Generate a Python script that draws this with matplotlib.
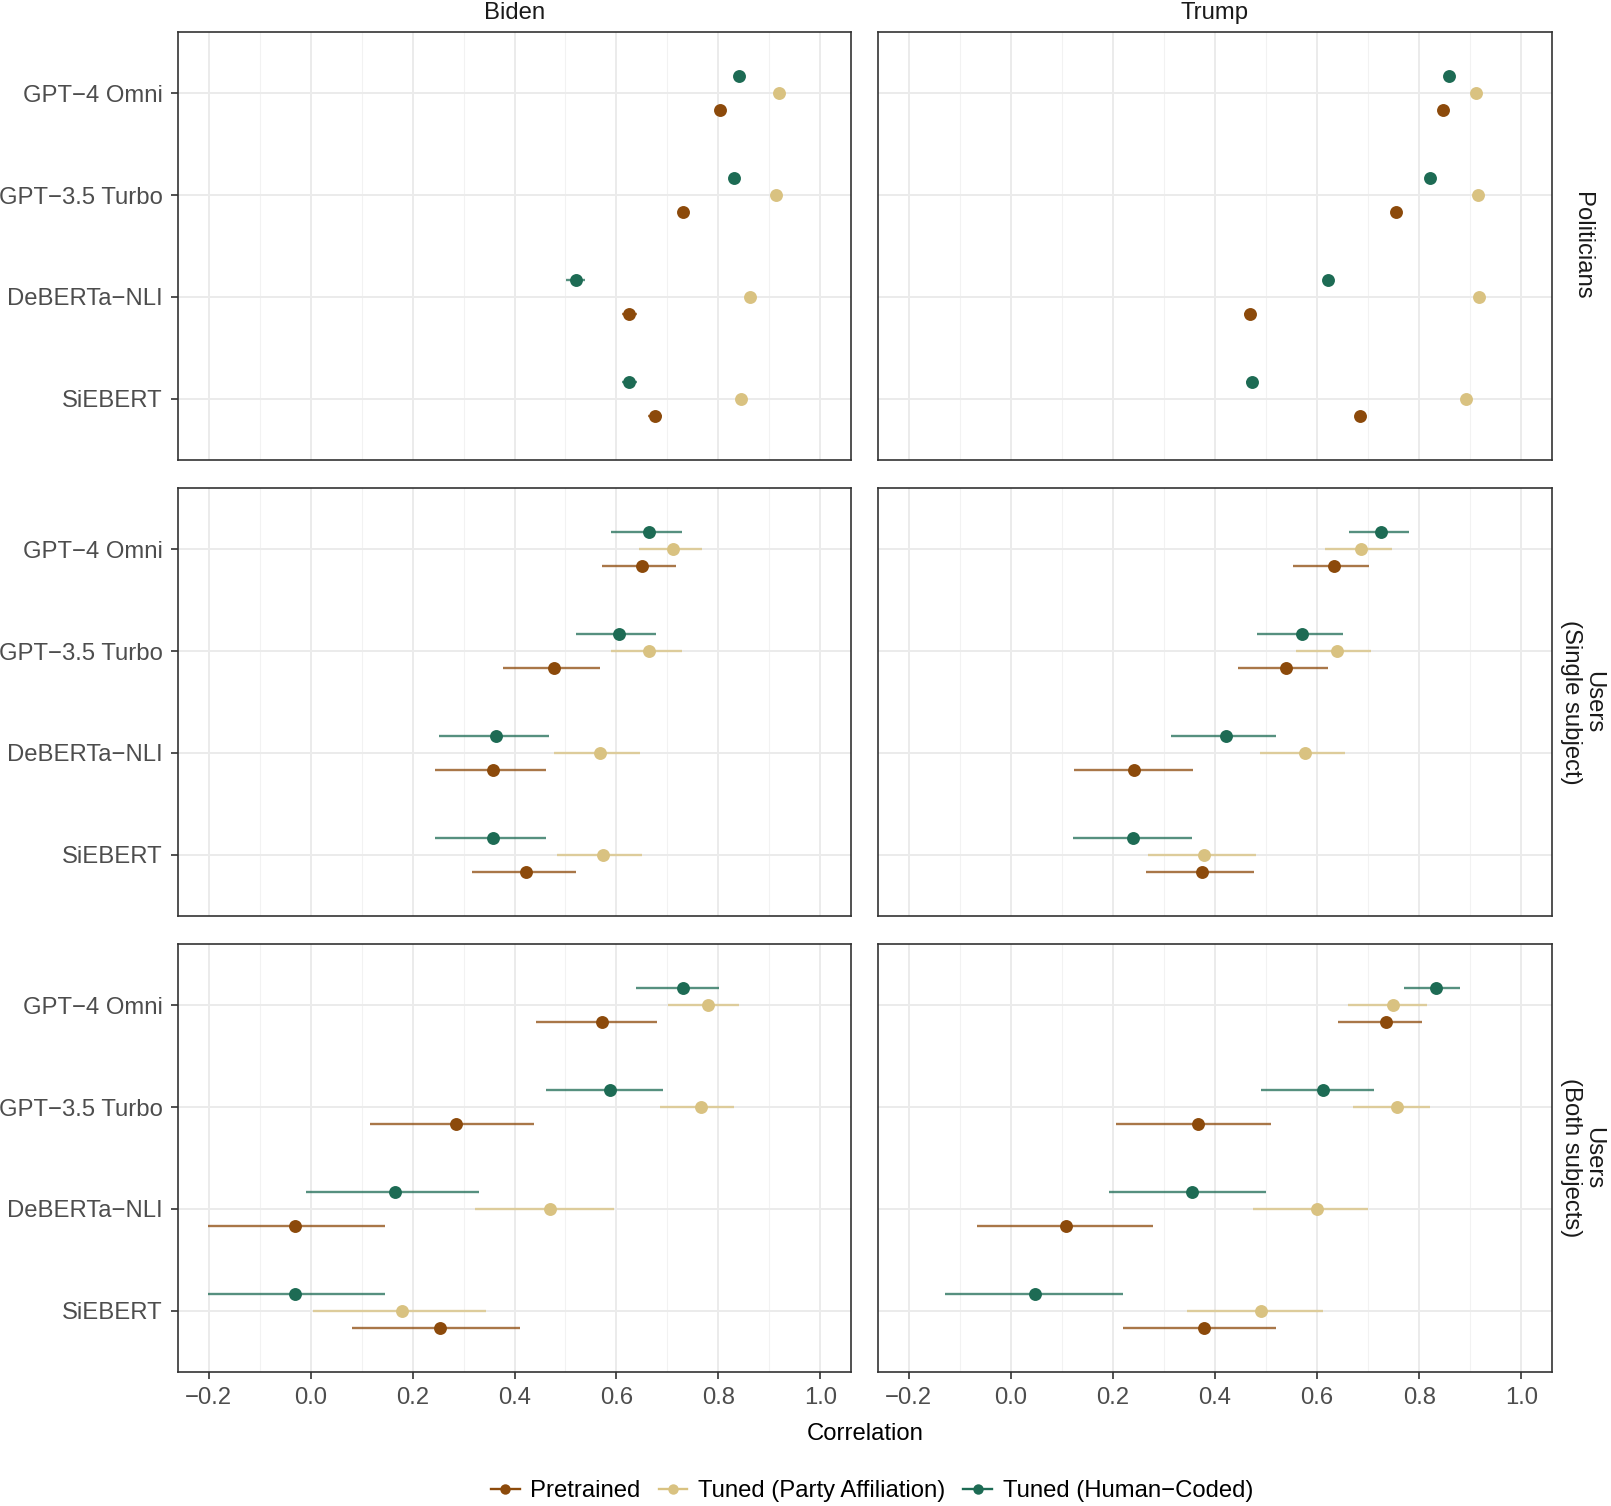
import matplotlib
matplotlib.use("Agg")
import matplotlib.pyplot as plt
from matplotlib.lines import Line2D
import numpy as np

plt.rcParams['font.family'] = ['Liberation Sans', 'DejaVu Sans']

models = ['GPT\u22124 Omni', 'GPT\u22123.5 Turbo', 'DeBERTa\u2212NLI', 'SiEBERT']
series = ['Pretrained', 'Tuned (Party Affiliation)', 'Tuned (Human\u2212Coded)']
colors = ['#8C4A0B', '#D9C281', '#1D6B54']
subjects = ['Biden', 'Trump']
samples = ['Politicians', 'Users\n(Single subject)', 'Users\n(Both subjects)']

# (estimate, lower, upper) per model, in the order of `models`
biden_politicians = {
    'Pretrained': [(0.804, 0.796, 0.812), (0.730, 0.722, 0.738), (0.625, 0.611, 0.641), (0.675, 0.662, 0.689)],
    'Tuned (Party Affiliation)': [(0.918, 0.912, 0.924), (0.912, 0.906, 0.918), (0.862, 0.855, 0.869), (0.844, 0.837, 0.851)],
    'Tuned (Human\u2212Coded)': [(0.841, 0.834, 0.848), (0.831, 0.824, 0.838), (0.520, 0.501, 0.539), (0.625, 0.611, 0.640)],
}
trump_politicians = {
    'Pretrained': [(0.847, 0.840, 0.854), (0.754, 0.746, 0.762), (0.468, 0.456, 0.480), (0.683, 0.675, 0.691)],
    'Tuned (Party Affiliation)': [(0.912, 0.906, 0.918), (0.916, 0.910, 0.922), (0.918, 0.912, 0.924), (0.891, 0.885, 0.897)],
    'Tuned (Human\u2212Coded)': [(0.858, 0.851, 0.865), (0.821, 0.814, 0.828), (0.621, 0.613, 0.629), (0.472, 0.461, 0.484)],
}
biden_single = {
    'Pretrained': [(0.650, 0.572, 0.716), (0.477, 0.377, 0.567), (0.358, 0.245, 0.461), (0.423, 0.316, 0.520)],
    'Tuned (Party Affiliation)': [(0.710, 0.644, 0.767), (0.663, 0.589, 0.729), (0.568, 0.477, 0.646), (0.573, 0.484, 0.651)],
    'Tuned (Human\u2212Coded)': [(0.663, 0.589, 0.729), (0.605, 0.520, 0.678), (0.364, 0.252, 0.467), (0.358, 0.245, 0.461)],
}
trump_single = {
    'Pretrained': [(0.633, 0.552, 0.701), (0.539, 0.445, 0.622), (0.242, 0.123, 0.356), (0.374, 0.264, 0.476)],
    'Tuned (Party Affiliation)': [(0.686, 0.615, 0.746), (0.638, 0.558, 0.705), (0.577, 0.488, 0.654), (0.378, 0.268, 0.480)],
    'Tuned (Human\u2212Coded)': [(0.725, 0.662, 0.780), (0.571, 0.482, 0.650), (0.421, 0.314, 0.519), (0.240, 0.121, 0.354)],
}
biden_both = {
    'Pretrained': [(0.572, 0.443, 0.679), (0.285, 0.116, 0.439), (-0.030, -0.202, 0.146), (0.253, 0.082, 0.410)],
    'Tuned (Party Affiliation)': [(0.780, 0.702, 0.840), (0.766, 0.685, 0.830), (0.470, 0.322, 0.596), (0.179, 0.005, 0.344)],
    'Tuned (Human\u2212Coded)': [(0.730, 0.638, 0.802), (0.588, 0.462, 0.692), (0.165, -0.009, 0.331), (-0.030, -0.202, 0.146)],
}
trump_both = {
    'Pretrained': [(0.734, 0.641, 0.805), (0.367, 0.206, 0.510), (0.109, -0.066, 0.279), (0.379, 0.219, 0.520)],
    'Tuned (Party Affiliation)': [(0.748, 0.661, 0.816), (0.757, 0.671, 0.822), (0.599, 0.474, 0.700), (0.490, 0.345, 0.612)],
    'Tuned (Human\u2212Coded)': [(0.832, 0.770, 0.879), (0.612, 0.490, 0.711), (0.355, 0.193, 0.499), (0.048, -0.128, 0.220)],
}

panels = [[biden_politicians, trump_politicians],
          [biden_single, trump_single],
          [biden_both, trump_both]]

W, H = 1611, 1506
fig = plt.figure(figsize=(W / 100, H / 100), dpi=100)

col_x = [(178, 851), (878, 1552)]
row_y = [(32, 460), (488, 916), (944, 1372)]
offsets = [-1 / 6, 0, 1 / 6]

grey_text = '#4D4D4D'
fs = 17.2

for r in range(3):
    for c in range(2):
        x0, x1 = col_x[c]
        y0, y1 = row_y[r]
        ax = fig.add_axes([x0 / W, 1 - y1 / H, (x1 - x0) / W, (y1 - y0) / H])
        data = panels[r][c]
        for s, name in enumerate(series):
            vals = np.array(data[name])
            ypos = 4 - np.arange(4) + offsets[s]
            ax.hlines(ypos, vals[:, 1], vals[:, 2], color=colors[s], lw=1.7, alpha=0.75, zorder=3)
            ax.plot(vals[:, 0], ypos, 'o', color=colors[s], ms=9.3, mec='none', zorder=4)
        ax.set_xlim(-0.26, 1.06)
        ax.set_ylim(0.4, 4.6)
        ax.set_xticks(np.arange(-0.2, 1.01, 0.2))
        ax.set_xticks(np.arange(-0.1, 1.06, 0.2), minor=True)
        ax.set_yticks([4, 3, 2, 1])
        ax.grid(True, which='major', color='#EBEBEB', lw=1.4, zorder=0)
        ax.grid(True, which='minor', axis='x', color='#F2F2F2', lw=0.8, zorder=0)
        ax.set_axisbelow(True)
        for sp in ax.spines.values():
            sp.set_color('#333333')
            sp.set_linewidth(1.2)
        ax.tick_params(which='minor', length=0)
        ax.tick_params(which='major', length=5, width=1.2, color='#333333',
                       labelsize=fs, labelcolor=grey_text, pad=6)
        if c == 0:
            ax.set_yticklabels(models)
        else:
            ax.tick_params(axis='y', left=False, labelleft=False)
        if r == 2:
            ax.xaxis.set_major_formatter(matplotlib.ticker.FuncFormatter(
                lambda v, p: f'{v:.1f}'.replace('-', '\u2212')))
        else:
            ax.tick_params(axis='x', bottom=False, labelbottom=False)

for c in range(2):
    x0, x1 = col_x[c]
    fig.text((x0 + x1) / 2 / W, 1 - 13 / H, subjects[c], ha='center', va='center',
             fontsize=fs, color='#1A1A1A')
for r in range(3):
    y0, y1 = row_y[r]
    fig.text(1582 / W, 1 - (y0 + y1) / 2 / H, samples[r], ha='center', va='center',
             rotation=-90, fontsize=fs, color='#1A1A1A', linespacing=1.0,
             multialignment='center')

fig.text(865 / W, 1 - 1434 / H, 'Correlation', ha='center', va='center',
         fontsize=fs, color='black')

handles = [Line2D([0], [0], color=colors[s], lw=1.7, marker='o', ms=7.5, mec='none')
           for s in range(3)]
fig.legend(handles, series, loc='center', bbox_to_anchor=(872 / W, 1 - 1491 / H),
           ncol=3, frameon=False, fontsize=fs, handlelength=1.2,
           handletextpad=0.45, columnspacing=0.75)

fig.savefig('out.png', dpi=100)
